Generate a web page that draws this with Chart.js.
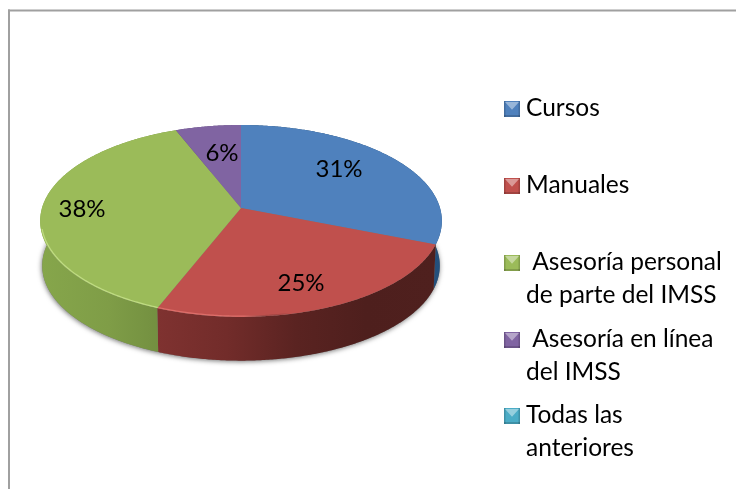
<!DOCTYPE html>
<html><head><meta charset="utf-8">
<style>html,body{margin:0;padding:0;background:#fff}#w{width:736px;height:489px}canvas{display:block}</style>
<script src="https://cdn.jsdelivr.net/npm/chart.js@4/dist/chart.umd.min.js"></script>
</head><body><div id="w"><canvas id="c" width="736" height="489"></canvas></div>
<script>
const categories = [["Cursos"],["Manuales"],[" Asesoría personal","de parte del IMSS"],[" Asesoría en línea","del IMSS"],["Todas las","anteriores"]];
const values = [31,25,38,6,0];
const colors = ["#4f81bd","#c0504d","#9bbb59","#8064a2","#4bacc6"];
const wallStops = [["#1d4468","#24507c"],["#7f3230","#722c2a","#5a2321","#4e1f1d","#4f201e"],["#86a64b","#7f9d47","#6f8b3e"],["#5f4a7a","#5f4a7a"],["#38808f","#38808f"]];
const rimColors = ["rgba(0,0,0,0)","rgba(232,120,115,.75)","rgba(200,228,140,.8)","rgba(0,0,0,0)","rgba(0,0,0,0)"];
const legendLineY = [116,193,270,347,423];
const labelCentres = [[339,169],[301,283],[82,209],[222,153]];
const FONT = "24px Lato", LEGEND_FONT = "24.5px Lato";
const P = 0.135, KX = 199/148, KY = 94.2/148, DEPTH = 45;

function proj(arc, a, r, dy){
  const u = Math.cos(a)*r, v = Math.sin(a)*r, w = 1 - P*v, R = arc.outerRadius;
  return [arc.x + KX*R*u/w, arc.y + KY*R*v/w + (dy||0)];
}
function arcPts(arc, from, to, r, dy){
  const n = Math.max(2, Math.ceil(Math.abs(to-from)/(Math.PI/360))), pts = [];
  for(let i=0;i<=n;i++) pts.push(proj(arc, from+(to-from)*i/n, r, dy));
  return pts;
}
function trace(ctx, pts, start){ pts.forEach((p,i)=> (i===0 && start) ? ctx.moveTo(p[0],p[1]) : ctx.lineTo(p[0],p[1])); }

const pie3d = {
  id:'pie3d',
  beforeDatasetDraw(chart){
    const ctx = chart.ctx, arcs = chart.getDatasetMeta(0).data, a0 = arcs[0];
    const sa = a0.startAngle, whole = [sa, sa+Math.PI*2];
    ctx.save();
    ctx.save();
    ctx.shadowColor='rgba(0,0,0,.55)'; ctx.shadowBlur=5; ctx.shadowOffsetY=1; ctx.shadowOffsetX=-0.5;
    ctx.fillStyle='#777';
    ctx.beginPath(); trace(ctx, arcPts(a0, whole[0], whole[1], 0.99, DEPTH), true); ctx.closePath(); ctx.fill();
    ctx.restore();
    arcs.forEach((arc,i)=>{
      if(arc.endAngle-arc.startAngle<1e-6) return;
      const top = arcPts(arc, arc.startAngle, arc.endAngle, 1, 0);
      const bot = arcPts(arc, arc.startAngle, arc.endAngle, 0.99, DEPTH).reverse();
      const xs = top.concat(bot).map(p=>p[0]), x0=Math.min(...xs), x1=Math.max(...xs);
      const g = ctx.createLinearGradient(x0,0,x1,0), st = wallStops[i];
      st.forEach((c,k)=>g.addColorStop(k/(st.length-1),c));
      ctx.fillStyle=g;
      ctx.beginPath(); trace(ctx, top, true); trace(ctx, bot, false); ctx.closePath(); ctx.fill();
    });
    arcs.forEach((arc,i)=>{
      if(arc.endAngle-arc.startAngle<1e-6) return;
      ctx.fillStyle=colors[i];
      ctx.beginPath(); ctx.moveTo(arc.x,arc.y); trace(ctx, arcPts(arc, arc.startAngle, arc.endAngle, 1, 0), false); ctx.closePath(); ctx.fill();
    });
    arcs.forEach((arc,i)=>{
      if(arc.endAngle-arc.startAngle<1e-6) return;
      const from = Math.max(arc.startAngle, 0), to = Math.min(arc.endAngle, Math.PI*0.93);
      if(to<=from) return;
      const pts = arcPts(arc, from, to, 0.994, 0);
      const g = ctx.createLinearGradient(60,0,290,0);
      g.addColorStop(0,rimColors[i]); g.addColorStop(0.8,rimColors[i]); g.addColorStop(1,'rgba(0,0,0,0)');
      ctx.strokeStyle=g; ctx.lineWidth=1.2;
      ctx.beginPath(); trace(ctx, pts, true); ctx.stroke();
    });
    ctx.restore();
    return false;
  },
  afterDatasetsDraw(chart){
    const ctx = chart.ctx, data = chart.data.datasets[0].data, total = data.reduce((a,b)=>a+b,0);
    ctx.save();
    ctx.fillStyle='#a0a0a0'; ctx.fillRect(8,9.5,728,2); ctx.fillRect(8,9.5,2,479.5);
    ctx.font=FONT; ctx.fillStyle='#000';
    ctx.textAlign='center'; ctx.textBaseline='middle';
    data.forEach((d,i)=>{ if(!d) return; ctx.fillText(Math.round(d/total*100)+'%', labelCentres[i][0], labelCentres[i][1]); });
    ctx.font=LEGEND_FONT;
    ctx.textAlign='left'; ctx.textBaseline='alphabetic';
    chart.data.labels.forEach((lines,i)=>{
      const y = legendLineY[i], x=504, s=16, t=y-15;
      ctx.fillStyle=colors[i]; ctx.fillRect(x,t,s,s);
      ctx.fillStyle='rgba(0,0,0,.16)'; ctx.fillRect(x,t+s-2,s,2); ctx.fillRect(x,t,1.5,s); ctx.fillRect(x+s-1.5,t,1.5,s);
      ctx.fillStyle='rgba(255,255,255,.42)'; ctx.beginPath(); ctx.moveTo(x+1,t+1); ctx.lineTo(x+s-1,t+1); ctx.lineTo(x+s/2,t+s*0.55); ctx.closePath(); ctx.fill();
      ctx.fillStyle='#000';
      lines.forEach((txt,k)=>ctx.fillText(txt,526,y+k*33));
    });
    ctx.restore();
  }
};
new Chart(document.getElementById('c'),{
  type:'pie',
  data:{labels:categories,datasets:[{data:values,backgroundColor:colors,borderWidth:0}]},
  options:{responsive:false,animation:false,events:[],
    layout:{padding:{left:40,right:294,top:60,bottom:133}},
    plugins:{legend:{display:false},tooltip:{enabled:false},title:{display:false}}},
  plugins:[pie3d]
});
</script></body></html>
